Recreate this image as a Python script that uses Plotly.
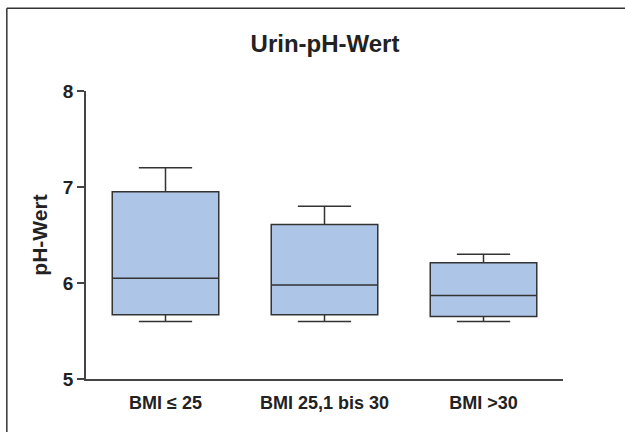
import plotly.graph_objects as go

categories = ["BMI \u2264 25", "BMI 25,1 bis 30", "BMI >30"]
lower_whisker = [5.6, 5.6, 5.6]
q1_values = [5.67, 5.67, 5.65]
median_values = [6.05, 5.98, 5.87]
q3_values = [6.95, 6.61, 6.21]
upper_whisker = [7.2, 6.8, 6.3]
y_ticks = [5, 6, 7, 8]

fig = go.Figure()
fig.add_trace(go.Box(
    x=categories,
    q1=q1_values,
    median=median_values,
    q3=q3_values,
    lowerfence=lower_whisker,
    upperfence=upper_whisker,
    fillcolor="#adc5e7",
    line=dict(color="#333333", width=1.5),
    whiskerwidth=0.5,
    width=0.67,
    boxpoints=False,
    hoverinfo="skip",
    showlegend=False,
))

font_family = "Liberation Sans, Arial, sans-serif"

fig.update_layout(
    width=625, height=432,
    margin=dict(l=86, r=62, t=91, b=53),
    paper_bgcolor="white",
    plot_bgcolor="white",
    title=dict(text="Urin-pH-Wert", x=0.52, xanchor="center", y=0.9, yanchor="middle",
               font=dict(family=font_family, size=24, color="#222222", weight="bold")),
    xaxis=dict(
        type="category",
        range=[-0.5, 2.5],
        showline=True, linecolor="#444444", linewidth=1.5,
        ticks="", showgrid=False, zeroline=False,
        tickfont=dict(family=font_family, size=18, color="#222222", weight="bold"),
        ticklabelstandoff=7,
    ),
    yaxis=dict(
        range=[5, 8],
        tickvals=y_ticks,
        showline=True, linecolor="#444444", linewidth=1.5,
        ticks="outside", ticklen=7, tickwidth=1.5, tickcolor="#444444",
        showgrid=False, zeroline=False,
        tickfont=dict(family=font_family, size=19, color="#222222", weight="bold"),
        title=dict(text="pH-Wert", font=dict(family=font_family, size=21, color="#222222", weight="bold"),
                   standoff=10),
    ),
    shapes=[
        dict(type="line", xref="paper", yref="paper", x0=-0.166, x1=-0.166, y0=-0.3, y1=1.287,
             line=dict(color="#333333", width=1.5)),
        dict(type="line", xref="paper", yref="paper", x0=-0.166, x1=1.2, y0=1.287, y1=1.287,
             line=dict(color="#333333", width=1.5)),
    ],
)

fig.write_html("out.html", config={"displayModeBar": False},
               post_script="document.body.style.margin='0';")
